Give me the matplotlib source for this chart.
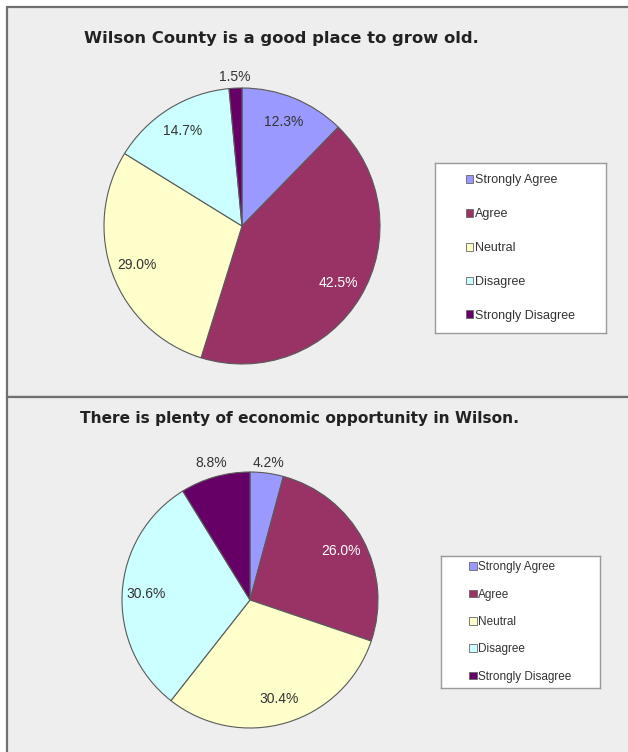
import matplotlib
matplotlib.use("Agg")
import matplotlib.pyplot as plt
from matplotlib.patches import Rectangle, Patch
import numpy as np

categories = ["Strongly Agree", "Agree", "Neutral", "Disagree", "Strongly Disagree"]
colors = ["#9999FF", "#993366", "#FFFFCC", "#CCFFFF", "#660066"]
title1 = "Wilson County is a good place to grow old."
values1 = [12.3, 42.5, 29.0, 14.7, 1.5]
title2 = "There is plenty of economic opportunity in Wilson."
values2 = [4.2, 26.0, 30.4, 30.6, 8.8]

W, H = 628, 752
fig = plt.figure(figsize=(W / 100, H / 100), dpi=100)
fig.patch.set_facecolor("white")

def fx(px):
    return px / W

def fy(py):
    return 1 - py / H

# panel backgrounds
bg = fig.add_axes([0, 0, 1, 1], zorder=-5)
bg.set_xlim(0, W)
bg.set_ylim(H, 0)
bg.axis("off")
bg.add_patch(Rectangle((7, 7), 640, 390, facecolor="#EEEEEE",
                       edgecolor="#707070", linewidth=1.6))
bg.add_patch(Rectangle((7, 397), 640, 400, facecolor="#EEEEEE",
                       edgecolor="#707070", linewidth=1.6))

def draw_pie(cx, cy, r, values, title, title_xy, legend_box, outside_dist, tsize,
             lsize, lspacing):
    ax = fig.add_axes([fx(cx - r), fy(cy + r), fx(2 * r), fy(cy - r) - fy(cy + r)])
    ax.set_facecolor("none")
    wedges, _ = ax.pie(values, colors=colors, startangle=90, counterclock=False,
                       wedgeprops=dict(edgecolor="#5a5a5a", linewidth=0.8),
                       radius=1.0)
    ax.set_xlim(-1, 1)
    ax.set_ylim(-1, 1)
    ax.set_aspect("equal")
    ax.axis("off")
    for i, (w, v) in enumerate(zip(wedges, values)):
        ang = np.deg2rad((w.theta1 + w.theta2) / 2)
        d = outside_dist.get(i, 0.81)
        col = "white" if i == 1 else "#333333"
        ax.text(d * np.cos(ang), d * np.sin(ang), f"{v:.1f}%", ha="center", va="center",
                fontsize=10, color=col, family=["Liberation Sans", "DejaVu Sans"],
                clip_on=False)
    fig.text(fx(title_xy[0]), fy(title_xy[1]), title, ha="center", va="center",
             fontsize=tsize, fontweight="bold", color="#222222",
             family=["DejaVu Sans"])
    x0, y0, x1, y1 = legend_box
    lax = fig.add_axes([fx(x0), fy(y1), fx(x1) - fx(x0), fy(y0) - fy(y1)])
    lax.set_xlim(0, 1)
    lax.set_ylim(0, 1)
    lax.set_xticks([])
    lax.set_yticks([])
    lax.set_facecolor("white")
    for s in lax.spines.values():
        s.set_color("#9a9a9a")
        s.set_linewidth(1.0)
    handles = [Patch(facecolor=c, edgecolor="#666666", linewidth=0.6) for c in colors]
    lax.legend(handles, categories, loc="center", frameon=False,
               prop={"family": ["Liberation Sans", "DejaVu Sans"], "size": lsize},
               labelcolor="#333333", handlelength=0.6, handleheight=0.6,
               handletextpad=0.15, labelspacing=lspacing,
               borderaxespad=0)

draw_pie(242, 226, 138, values1, title1, (281, 38), (435, 163, 606, 333), {4: 1.08},
         11.8, 9, 1.75)
draw_pie(250, 600, 128, values2, title2, (300, 418), (441, 556, 600, 688),
         {0: 1.08, 4: 1.11}, 11.1, 8.5, 1.3)

fig.savefig("out.png", dpi=100, facecolor=fig.get_facecolor())
